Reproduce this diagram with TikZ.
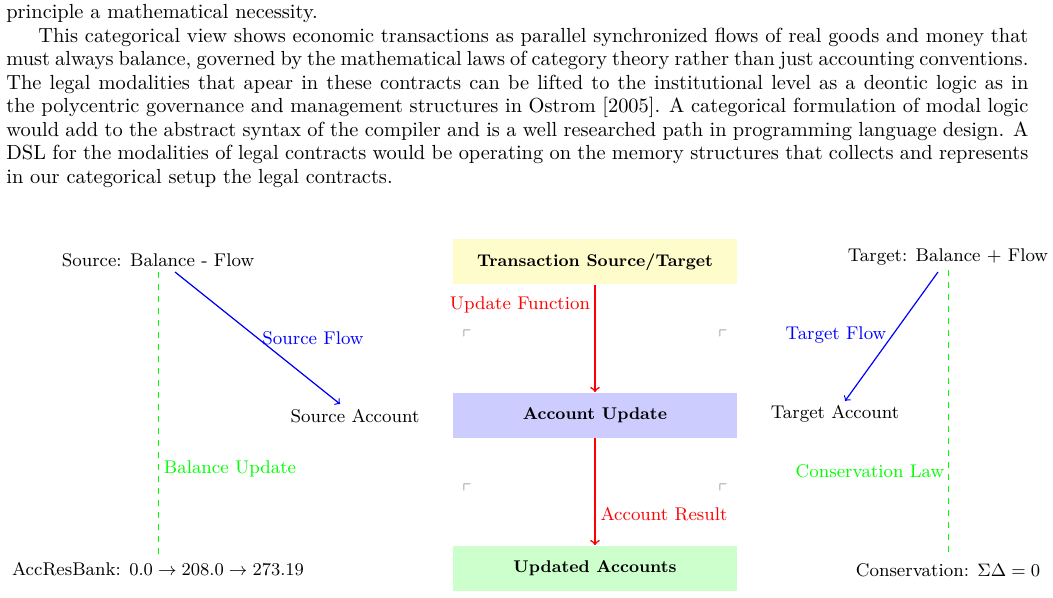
\documentclass[tikz,border=0pt]{standalone}
\usepackage{amssymb}
\usetikzlibrary{positioning}
\tikzset{
  box/.style={rectangle, minimum width=142pt, minimum height=22.5pt},
  flow/.style={->, thick},
  corner/.style={gray, font=\small},
}
\begin{document}
\begin{tikzpicture}[x=0.5pt,y=-0.5pt, every node/.append style={font=\fontsize{9.2}{11.5}\selectfont}]
\useasboundingbox (0,0) rectangle (1053,598);
% text above the diagram
\node (para) [anchor=north west, inner sep=0pt, text width=511pt, align=justify, font=\fontsize{10.2}{11.75}\selectfont] at (6,4) {%
principle a mathematical necessity.\par
\hspace*{16pt}This categorical view shows economic transactions as parallel synchronized flows of real goods and money that must always balance, governed by the mathematical laws of category theory rather than just accounting conventions. The legal modalities that apear in these contracts can be lifted to the institutional level as a deontic logic as in the polycentric governance and management structures in Ostrom [2005]. A categorical formulation of modal logic would add to the abstract syntax of the compiler and is a well researched path in programming language design. A DSL for the modalities of legal contracts would be operating on the memory structures that collects and represents in our categorical setup the legal contracts.};
% central column
\node (trans) [box, fill=yellow!20, font=\fontsize{8.5}{10}\selectfont\bfseries] at (595,262) {Transaction Source/Target};
\node (upd) [box, fill=blue!20, font=\fontsize{8.5}{10}\selectfont\bfseries] at (595,415) {Account Update};
\node (res) [box, fill=green!20, font=\fontsize{8.5}{10}\selectfont\bfseries] at (595,568) {Updated Accounts};
\draw [flow, red] (trans) -- (upd);
\draw [flow, red] (upd) -- (res);
\node (fn) [red] at (520,305) {Update Function};
\node (ar) [red] at (664,514) {Account Result};
\node (c1) [corner] at (467,336) {$\ulcorner$};
\node (c2) [corner] at (723,336) {$\ulcorner$};
\node (c3) [corner] at (467,490) {$\ulcorner$};
\node (c4) [corner] at (723,490) {$\ulcorner$};
% source side
\node (src) at (158,260) {Source: Balance - Flow};
\node (sacc) at (355,416) {Source Account};
\coordinate (sfrom) at (175,272);
\coordinate (sto) at (340,404);
\draw [->, semithick, blue] (sfrom) -- (sto);
\node (sflow) [blue] at (313,338) {Source Flow};
\coordinate (stop) at (158,272);
\coordinate (sbot) at (158,556);
\draw [dashed, green] (stop) -- (sbot);
\node (bu) [green] at (230,469) {Balance Update};
\node (bank) at (158,569) {AccResBank: $0.0 \rightarrow 208.0 \rightarrow 273.19$};
% target side
\node (tgt) at (948,257) {Target: Balance + Flow};
\node (tacc) at (835,414) {Target Account};
\coordinate (tfrom) at (938,272);
\coordinate (tto) at (845,401);
\draw [->, semithick, blue] (tfrom) -- (tto);
\node (tflow) [blue] at (836,335) {Target Flow};
\coordinate (ttop) at (948,270);
\coordinate (tbot) at (948,556);
\draw [dashed, green] (ttop) -- (tbot);
\node (cl) [green] at (870,471) {Conservation Law};
\node (cons) at (948,570) {Conservation: $\Sigma\Delta = 0$};
\end{tikzpicture}
\end{document}
